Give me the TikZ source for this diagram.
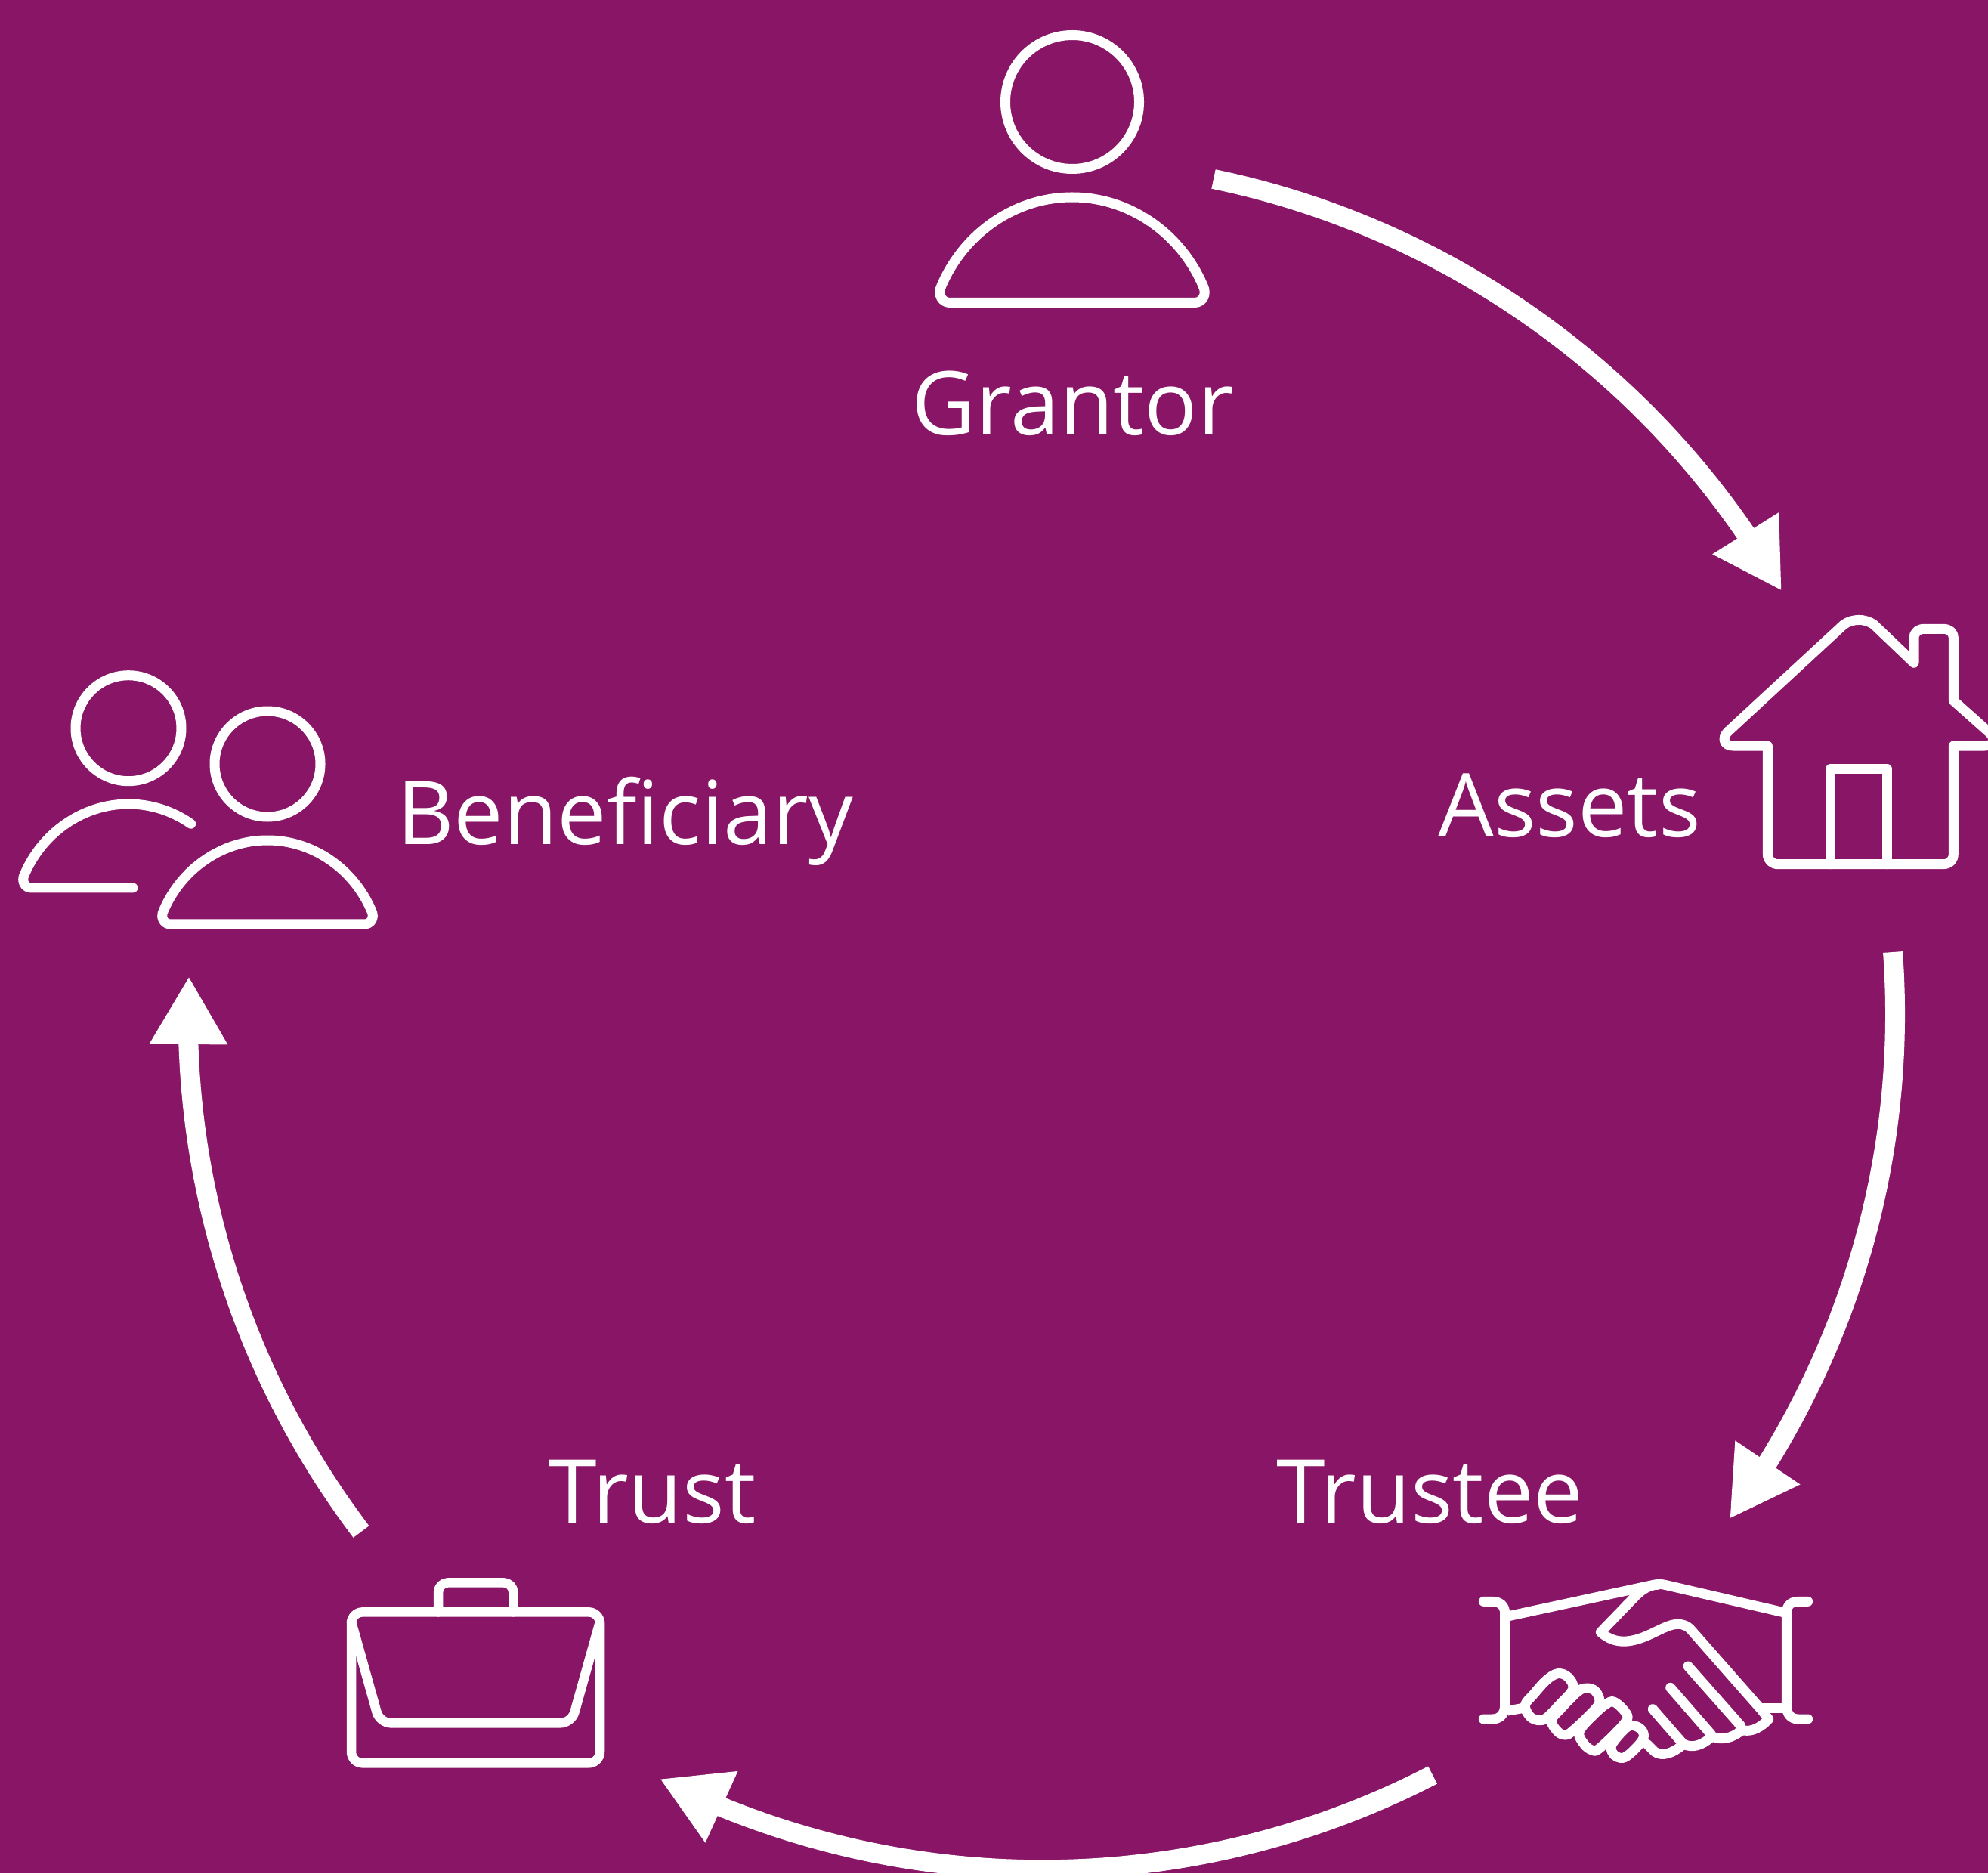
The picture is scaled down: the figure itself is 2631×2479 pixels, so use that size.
\documentclass[tikz,border=0pt]{standalone}
\usepackage{fontspec}
\setmainfont{Open Sans}
\usetikzlibrary{arrows.meta,bending}
\definecolor{bgplum}{HTML}{881566}
\tikzset{
  icon/.style={draw=white,line width=.13cm,line cap=round,line join=round,fill=none},
  flow/.style={draw=white,line width=.26cm,-{Triangle[length=.9cm,width=.97cm]}},
  caption/.style={text=white,inner sep=0pt,anchor=base,font=\fontsize{33.2}{36}\selectfont}
}
\newcommand\personbody[3]{%
  \begin{scope}[shift={(#1,#2)},scale=#3]
    \draw[icon] (-162,139.5) -- (162,139.5) .. controls (172,139.5) and (179,129) .. (173,117)
      .. controls (143,47) and (75,0) .. (0,0)
      .. controls (-75,0) and (-143,47) .. (-173,117)
      .. controls (-179,129) and (-172,139.5) .. (-162,139.5) -- cycle;
  \end{scope}}
\begin{document}
\begin{tikzpicture}[x=.01cm,y=-.01cm]
\useasboundingbox (0,0) rectangle (2631,2479);
\fill[bgplum] (0,0) rectangle (2631,2479);

% labels
\node[caption] (grantor) at (1420,575) {Grantor};
\node[caption] (assets) at (2077,1107) {Assets};
\node[caption] (trustee) at (1892,2015) {Trustee};
\node[caption] (trust) at (863,2015) {Trust};
\node[caption] (beneficiary) at (827,1117) {Beneficiary};

% flow arrows
\coordinate (a1s) at (1606,237);
\coordinate (a1e) at (2358,782);
\coordinate (a2s) at (2505,1260);
\coordinate (a2e) at (2289,2010);
\coordinate (a3s) at (1896,2349);
\coordinate (a3e) at (873,2354);
\coordinate (a4s) at (478,2027);
\coordinate (a4e) at (250,1292);
\draw[flow] (a1s) to[bend left=24.25,looseness=.89] (a1e);
\draw[flow] (a2s) to[bend left=20.25,looseness=.879] (a2e);
\draw[flow] (a3s) to[bend left=27,looseness=.90] (a3e);
\draw[flow] (a4s) to[bend left=19.9,looseness=.878] (a4e);

% grantor
\draw[icon] (1419,135) circle[radius=88.5];
\personbody{1419}{261}{1}

% beneficiary
\draw[icon] (170,963.7) circle[radius=70];
\draw[icon] (354,1011) circle[radius=70];
\personbody{354}{1112}{.795}
\begin{scope}[shift={(170,1064)},scale=.795]
  \draw[icon] (7.5,139.5) -- (-162,139.5) .. controls (-172,139.5) and (-179,129) .. (-173,117)
    .. controls (-143,47) and (-75,0) .. (0,0) .. controls (38,0) and (74,12) .. (104,33);
\end{scope}

% house
\begin{scope}[shift={(2240,790)},scale=1/3]
  \draw[icon] (298,591) -- (160,591) .. controls (125,591) and (115,560) .. (140,535)
    -- (600,110) .. controls (635,85) and (685,85) .. (720,110)
    -- (879,262) -- (879,165) .. controls (879,140) and (895,127) .. (920,127)
    -- (995,127) .. controls (1020,127) and (1036,140) .. (1036,165)
    -- (1036,412) -- (1180,540) .. controls (1205,565) and (1195,591) .. (1160,591)
    -- (1036,591) -- (1036,1020) .. controls (1036,1045) and (1020,1061) .. (995,1061)
    -- (340,1061) .. controls (315,1061) and (298,1045) .. (298,1020) -- cycle;
  \draw[icon] (548,1061) -- (548,683) -- (773,683) -- (773,1061);
\end{scope}

% briefcase
\begin{scope}[shift={(430,2070)},scale=1/3]
  \draw[icon,line width=.125cm,rounded corners=.15cm] (105,190) rectangle (1092,790);
  \draw[icon,line width=.125cm,rounded corners=.13cm] (450,190) -- (450,73) -- (748,73) -- (748,190);
  \draw[icon,line width=.125cm,rounded corners=.15cm] (105,228) -- (218,631) -- (979,631) -- (1092,228);
\end{scope}

% handshake
\begin{scope}[shift={(1930,2060)},scale=1/3]
  \draw[icon] (100,178) -- (135,178) .. controls (165,178) and (185,195) .. (185,225)
    -- (185,590) .. controls (185,625) and (165,645) .. (135,645) -- (100,645);
  \draw[icon] (1388,178) -- (1350,178) .. controls (1320,178) and (1303,195) .. (1303,225)
    -- (1303,590) .. controls (1303,625) and (1320,645) .. (1350,645) -- (1388,645);
  \draw[icon,line cap=butt] (195,237) -- (770,113) .. controls (790,108) and (805,108) .. (825,113) -- (1295,222);
  \draw[icon,line cap=butt] (195,612) -- (265,600);
  \draw[icon,line cap=butt] (1200,600) -- (1295,600);
  % upper hand
  \draw[icon] (790,112) .. controls (760,112) and (730,130) .. (705,155) -- (565,300)
    .. controls (610,340) and (660,345) .. (720,325)
    .. controls (780,305) and (830,268) .. (870,268)
    .. controls (895,268) and (910,275) .. (925,292)
    -- (1205,610) -- (1232,645)
    .. controls (1200,680) and (1165,695) .. (1135,690) -- (1118,690);
  \draw[icon] (912,435) -- (1120,670);
  \draw[icon] (842,520) -- (1003,705);
  \draw[icon] (772,605) -- (888,738);
  \draw[icon] (1118,695) .. controls (1085,720) and (1045,730) .. (1010,715);
  \draw[icon] (1000,720) .. controls (965,750) and (930,760) .. (895,745);
  \draw[icon] (885,752) .. controls (850,780) and (810,795) .. (780,775) -- (750,745);
  % lower hand fingers
  \draw[icon] plot[smooth cycle,tension=.6] coordinates {(265,590) (300,545) (350,490) (395,464) (435,478) (455,525) (400,590) (350,640) (320,650) (285,635)};
  \draw[icon] plot[smooth cycle,tension=.6] coordinates {(370,650) (410,600) (475,535) (510,522) (545,535) (560,580) (520,630) (450,695) (425,708) (395,695)};
  \draw[icon] plot[smooth cycle,tension=.6] coordinates {(480,695) (540,625) (595,580) (625,580) (665,620) (668,650) (620,705) (555,765) (530,768) (500,745)};
  \draw[icon] plot[smooth cycle,tension=.6] coordinates {(610,745) (650,695) (685,670) (725,685) (735,720) (700,765) (660,797) (630,795) (610,775)};
\end{scope}
\end{tikzpicture}
\end{document}
